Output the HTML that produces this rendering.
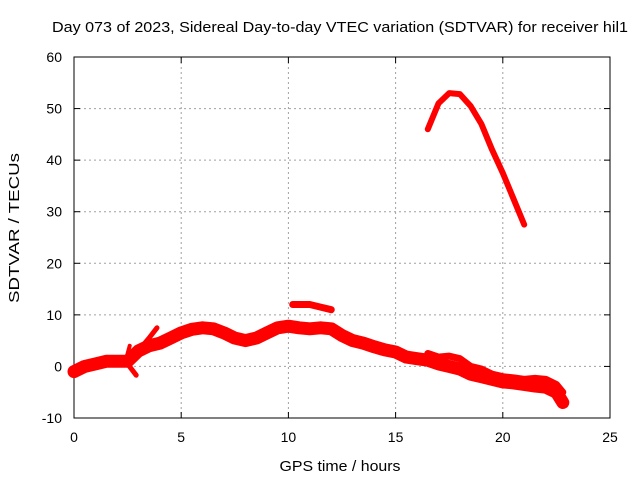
<!DOCTYPE html>
<html><head><meta charset="utf-8"><style>
body{margin:0;background:#fff;}
svg{display:block;font-family:"Liberation Sans",sans-serif;}
</style></head><body>
<svg id="chart" width="640" height="480"></svg>
<script>
const xTicks=[0,5,10,15,20,25];
const yTicks=[-10,0,10,20,30,40,50,60];
const mainHours=[0,0.5,1,1.5,2,2.5,3,3.5,4,4.5,5,5.5,6,6.5,7,7.5,8,8.5,9,9.5,10,10.5,11,11.5,12,12.5,13,13.5,14,14.5,15,15.5,16,16.5,17,17.5,18,18.5,19,19.5,20,20.5,21,21.5,22,22.5,22.8];
const mainVals=[-1,0,0.5,1,1,1,3,4,4.5,5.5,6.5,7.2,7.5,7.3,6.5,5.5,5,5.5,6.5,7.5,7.8,7.5,7.3,7.5,7.3,6,5,4.5,3.8,3.2,2.8,1.8,1.5,1.2,0.5,0,-0.5,-1.5,-2,-2.5,-3,-3.2,-3.5,-3.8,-4,-5,-7];
const upperHours=[16.5,17,17.5,18,18.5,19,19.5,20,20.5,21,21.5,22,22.5,22.8];
const upperVals=[2.5,1.8,2,1.5,0,-0.5,-1.5,-2,-2.2,-2.5,-2.3,-2.5,-3.5,-5];
const isleHours=[10.2,11,11.5,12];
const isleVals=[12,12,11.5,11];
const spike1Hours=[3.0,3.5,3.87];
const spike1Vals=[3,5.5,7.5];
const spike2Hours=[2.4,2.6];
const spike2Vals=[1,4];
const spike3Hours=[2.5,2.9];
const spike3Vals=[0.5,-1.7];
const peakHours=[16.5,17,17.5,18,18.5,19,19.5,20,20.5,21];
const peakVals=[46,51,53,52.8,50.5,47,42,37.5,32.5,27.5];

const L=74,R=610,T=57,B=418;
const xs=h=>L+(h-0)/25*(R-L);
const ys=v=>B-(v+10)/70*(B-T);
const svg=document.getElementById('chart');
const NS='http://www.w3.org/2000/svg';
function mk(t,a){const e=document.createElementNS(NS,t);for(const k in a)e.setAttribute(k,a[k]);svg.appendChild(e);return e;}
let e;
e=mk('text',{x:340,y:32,'text-anchor':'middle','font-size':15,textLength:576,lengthAdjust:'spacingAndGlyphs',fill:'#000'});e.textContent='Day 073 of 2023, Sidereal Day-to-day VTEC variation (SDTVAR) for receiver hil1';


xTicks.forEach(t=>{
 if(t>0&&t<25){e=mk('line',{x1:xs(t),x2:xs(t),y1:T,y2:B,stroke:'#a0a0a0','stroke-dasharray':'2,3'});
 
 }
 mk('line',{x1:xs(t),x2:xs(t),y1:B,y2:B-6,stroke:'#000'});
 mk('line',{x1:xs(t),x2:xs(t),y1:T,y2:T+6,stroke:'#000'});
 e=mk('text',{x:xs(t),y:B+24,'text-anchor':'middle','font-size':14});e.textContent=t;
 
 
});
yTicks.forEach(t=>{
 if(t>-10&&t<60){e=mk('line',{x1:L,x2:R,y1:ys(t),y2:ys(t),stroke:'#a0a0a0','stroke-dasharray':'2,3'});
 
 }
 mk('line',{x1:L,x2:L+6,y1:ys(t),y2:ys(t),stroke:'#000'});
 mk('line',{x1:R,x2:R-6,y1:ys(t),y2:ys(t),stroke:'#000'});
 e=mk('text',{x:L-12,y:ys(t)+5,'text-anchor':'end','font-size':14});e.textContent=t;
 
 
});
e=mk('rect',{x:L,y:T,width:R-L,height:B-T,fill:'none',stroke:'#000'});


e=mk('text',{x:340,y:471,'text-anchor':'middle','font-size':15,textLength:121,lengthAdjust:'spacingAndGlyphs'});e.textContent='GPS time / hours';


e=mk('text',{x:19,y:228,'text-anchor':'middle','font-size':15,textLength:150,lengthAdjust:'spacingAndGlyphs',transform:'rotate(-90 19 228)'});e.textContent='SDTVAR / TECUs';


function series(hs,vs,w,name){
 const d=hs.map((h,i)=>(i?'L':'M')+xs(h).toFixed(1)+','+ys(vs[i]).toFixed(1)).join(' ');
 const p=mk('path',{d:d,fill:'none',stroke:'#ff0000','stroke-width':w,'stroke-linejoin':'round','stroke-linecap':'round'});
 
 
}
series(mainHours,mainVals,13,'series-main-band');
series(upperHours,upperVals,7,'series-upper-band');
series(isleHours,isleVals,7,'series-isle');
series(spike1Hours,spike1Vals,5,'series-spike-1');
series(spike2Hours,spike2Vals,4,'series-spike-2');
series(spike3Hours,spike3Vals,5,'series-spike-3');
series(peakHours,peakVals,6,'series-peak');
</script>
</body></html>
